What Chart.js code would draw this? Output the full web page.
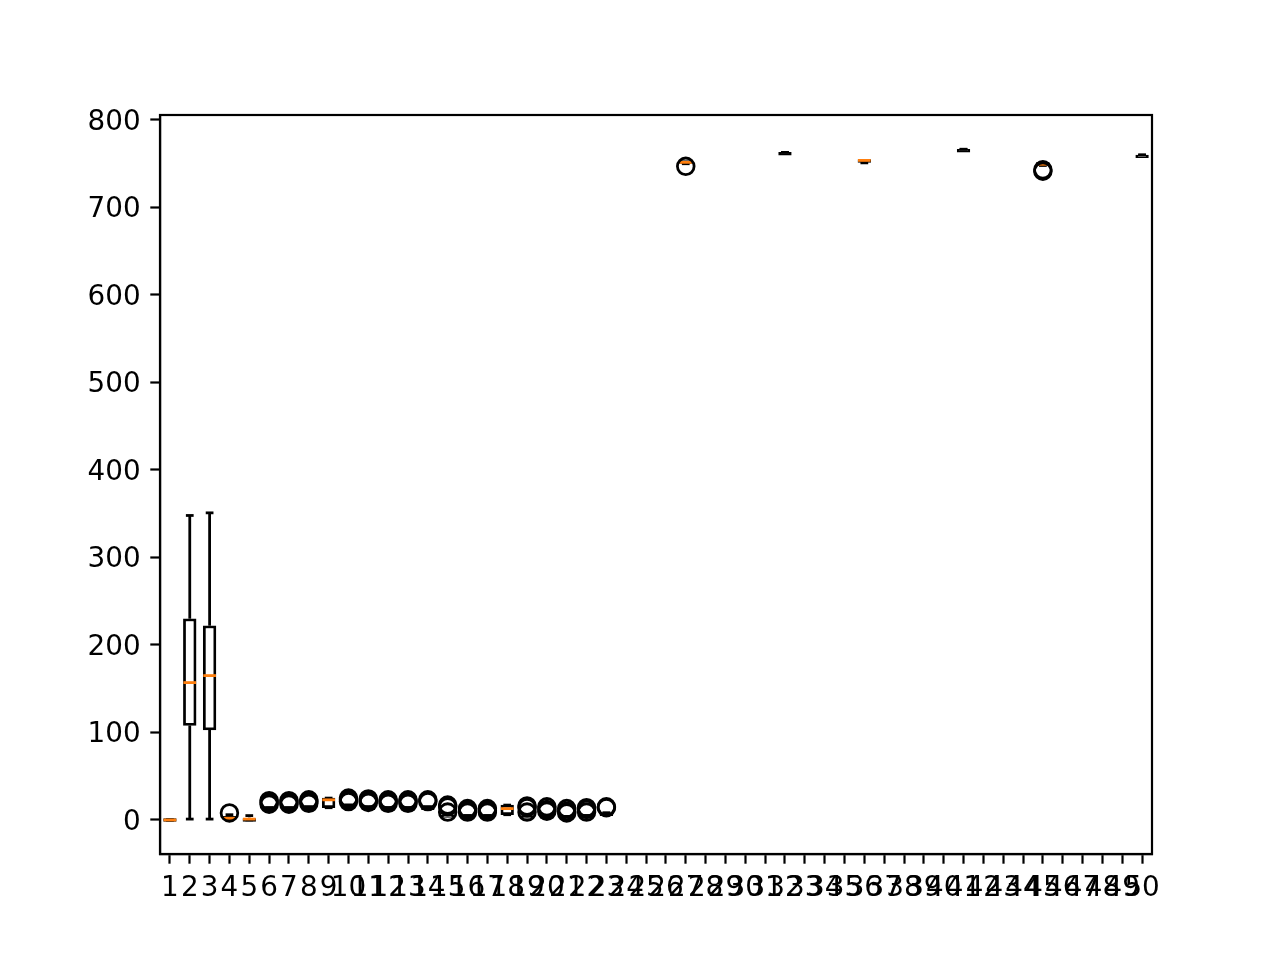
<!DOCTYPE html>
<html lang="en">
<head>
  <meta charset="UTF-8">
  <title>Boxplot</title>
  <script src="https://cdn.jsdelivr.net/npm/chart.js"></script>
  <style>
    html, body { margin: 0; padding: 0; background: #fff; }
  </style>
</head>
<body>
  <canvas id="boxChart" width="1280" height="960"></canvas>

  <script>
    const categories = [1, 2, 3, 4, 5, 6, 7, 8, 9, 10, 11, 12, 13, 14, 15, 16, 17, 18, 19, 20,
      21, 22, 23, 24, 25, 26, 27, 28, 29, 30, 31, 32, 33, 34, 35, 36, 37, 38, 39, 40,
      41, 42, 43, 44, 45, 46, 47, 48, 49, 50];
    const yTicks = [0, 100, 200, 300, 400, 500, 600, 700, 800];

    // box statistics per category (null = empty column)
    const whiskerLo = [0, 1, 1, 0, 0, 14, 14, 15, 14, 17, 15, 14, 14, 15, 6, 5, 5, 6, 5, 5,
      4, 5, 8, null, null, null, 750, null, null, null, null, 763, null, null, null, 751, null, null, null, null,
      766.5, null, null, null, 748, null, null, null, null, 760];
    const q1 = [0, 108, 103, 1, 0, 14, 14, 15, 14, 17, 15, 14, 14, 15, 6, 5, 5, 6, 5, 5,
      4, 5, 8, null, null, null, 750.3, null, null, null, null, 763, null, null, null, 751.5, null, null, null, null,
      766.5, null, null, null, 748.3, null, null, null, null, 760];
    const median = [0, 157, 165, 2, 1, null, null, null, 23, null, null, null, null, null, null, null, null, 13, null, null,
      null, null, null, null, null, null, 751.6, null, null, null, null, null, null, null, null, 753.8, null, null, null, null,
      null, null, null, null, 749.4, null, null, null, null, null];
    const q3 = [0, 230, 222, 4, 3, 14, 14, 15, 25, 17, 15, 14, 14, 15, 6, 5, 5, 17, 5, 5,
      4, 5, 8, null, null, null, 751.6, null, null, null, null, 763, null, null, null, 753.8, null, null, null, null,
      766.5, null, null, null, 749.4, null, null, null, null, 760];
    const whiskerHi = [0, 348, 351, 6, 5, 14, 14, 15, 25, 17, 15, 14, 14, 15, 6, 5, 5, 17, 5, 5,
      4, 5, 8, null, null, null, 751.6, null, null, null, null, 763, null, null, null, 753.8, null, null, null, null,
      766.5, null, null, null, 749.4, null, null, null, null, 760];
    const fliers = [[], [], [], [8], [], [22, 20, 18], [22, 20, 18], [23, 21, 19], [], [25, 23, 21],
      [24, 22, 20], [23, 21, 19], [23, 21, 19], [23, 21], [17, 15, 9], [13, 11, 9], [13, 11, 9], [], [16, 14, 9], [15, 12, 10],
      [13, 10, 8], [14, 12, 9], [15, 14], [], [], [], [747], [], [], [],
      [], [], [], [], [], [], [], [], [], [],
      [], [], [], [], [743, 741.5], [], [], [], [], []];

    const LW = 2.78;
    const ORANGE = "#ff7f0e";

    const boxData = [];
    const flierData = [];
    categories.forEach((c, i) => {
      if (q1[i] !== null) boxData.push({ x: c, y: [q1[i], q3[i]] });
      fliers[i].forEach(v => flierData.push({ x: c, y: v }));
    });

    // whiskers, caps, medians and the top/right frame
    const boxParts = {
      id: "boxParts",
      afterDatasetDraw(chart, args) {
        if (args.index !== 0) return;
        const { ctx } = chart;
        const x = chart.scales.x, y = chart.scales.y;
        const seg = (x1, y1, x2, y2) => {
          ctx.beginPath();
          ctx.moveTo(x1, y1);
          ctx.lineTo(x2, y2);
          ctx.stroke();
        };
        ctx.save();
        ctx.lineWidth = LW;
        categories.forEach((c, i) => {
          if (q1[i] === null) return;
          const px = x.getPixelForValue(c);
          ctx.strokeStyle = "#000";
          ctx.lineCap = "butt";
          if (whiskerHi[i] > q3[i]) seg(px, y.getPixelForValue(q3[i]), px, y.getPixelForValue(whiskerHi[i]));
          if (whiskerLo[i] < q1[i]) seg(px, y.getPixelForValue(q1[i]), px, y.getPixelForValue(whiskerLo[i]));
          ctx.lineCap = "square";
          const cl = x.getPixelForValue(c - 0.125), cr = x.getPixelForValue(c + 0.125);
          seg(cl, y.getPixelForValue(whiskerHi[i]), cr, y.getPixelForValue(whiskerHi[i]));
          seg(cl, y.getPixelForValue(whiskerLo[i]), cr, y.getPixelForValue(whiskerLo[i]));
          if (median[i] !== null) {
            ctx.strokeStyle = ORANGE;
            const my = y.getPixelForValue(median[i]);
            seg(x.getPixelForValue(c - 0.25), my, x.getPixelForValue(c + 0.25), my);
          }
        });
        ctx.restore();
      },
      afterDraw(chart) {
        const { ctx, chartArea: a } = chart;
        ctx.save();
        ctx.strokeStyle = "#000";
        ctx.lineWidth = 2.2;
        ctx.strokeRect(a.left, a.top, a.right - a.left, a.bottom - a.top);
        ctx.restore();
      }
    };

    const font = { family: "DejaVu Sans", size: 27.8 };

    new Chart(document.getElementById("boxChart"), {
      type: "bar",
      data: {
        datasets: [{
          type: "bar",
          data: boxData,
          backgroundColor: "#fff",
          borderColor: "#000",
          borderWidth: LW,
          borderSkipped: false,
          barThickness: 12.7,
          minBarLength: LW,
          order: 2
        }, {
          type: "scatter",
          data: flierData,
          pointStyle: "circle",
          pointRadius: 8.35,
          pointBorderWidth: LW,
          pointBackgroundColor: "rgba(0,0,0,0)",
          pointBorderColor: "#000",
          order: 1
        }]
      },
      options: {
        responsive: false,
        devicePixelRatio: 1,
        animation: false,
        layout: { padding: { top: 115, right: 128, left: 0, bottom: 0 } },
        plugins: { legend: { display: false }, tooltip: { enabled: false } },
        scales: {
          x: {
            type: "linear",
            min: 0.5,
            max: 50.5,
            offset: false,
            afterFit: s => { s.height = 106; },
            afterBuildTicks: s => { s.ticks = categories.map(v => ({ value: v })); },
            border: { display: true, color: "#000", width: 2.2 },
            grid: { display: true, offset: false, drawOnChartArea: false, drawTicks: true, tickLength: 9.7, tickWidth: 2.2, tickColor: "#000" },
            ticks: { autoSkip: false, maxRotation: 0, minRotation: 0, padding: 8, color: "#000", font, callback: v => String(v) }
          },
          y: {
            type: "linear",
            min: -38.9,
            max: 805.7,
            afterFit: s => { s.width = 160; },
            afterBuildTicks: s => { s.ticks = yTicks.map(v => ({ value: v })); },
            border: { display: true, color: "#000", width: 2.2 },
            grid: { display: true, offset: false, drawOnChartArea: false, drawTicks: true, tickLength: 9.7, tickWidth: 2.2, tickColor: "#000" },
            ticks: { padding: 9.7, labelOffset: 2.5, color: "#000", font, callback: v => String(v) }
          }
        }
      },
      plugins: [boxParts]
    });
  </script>
</body>
</html>
